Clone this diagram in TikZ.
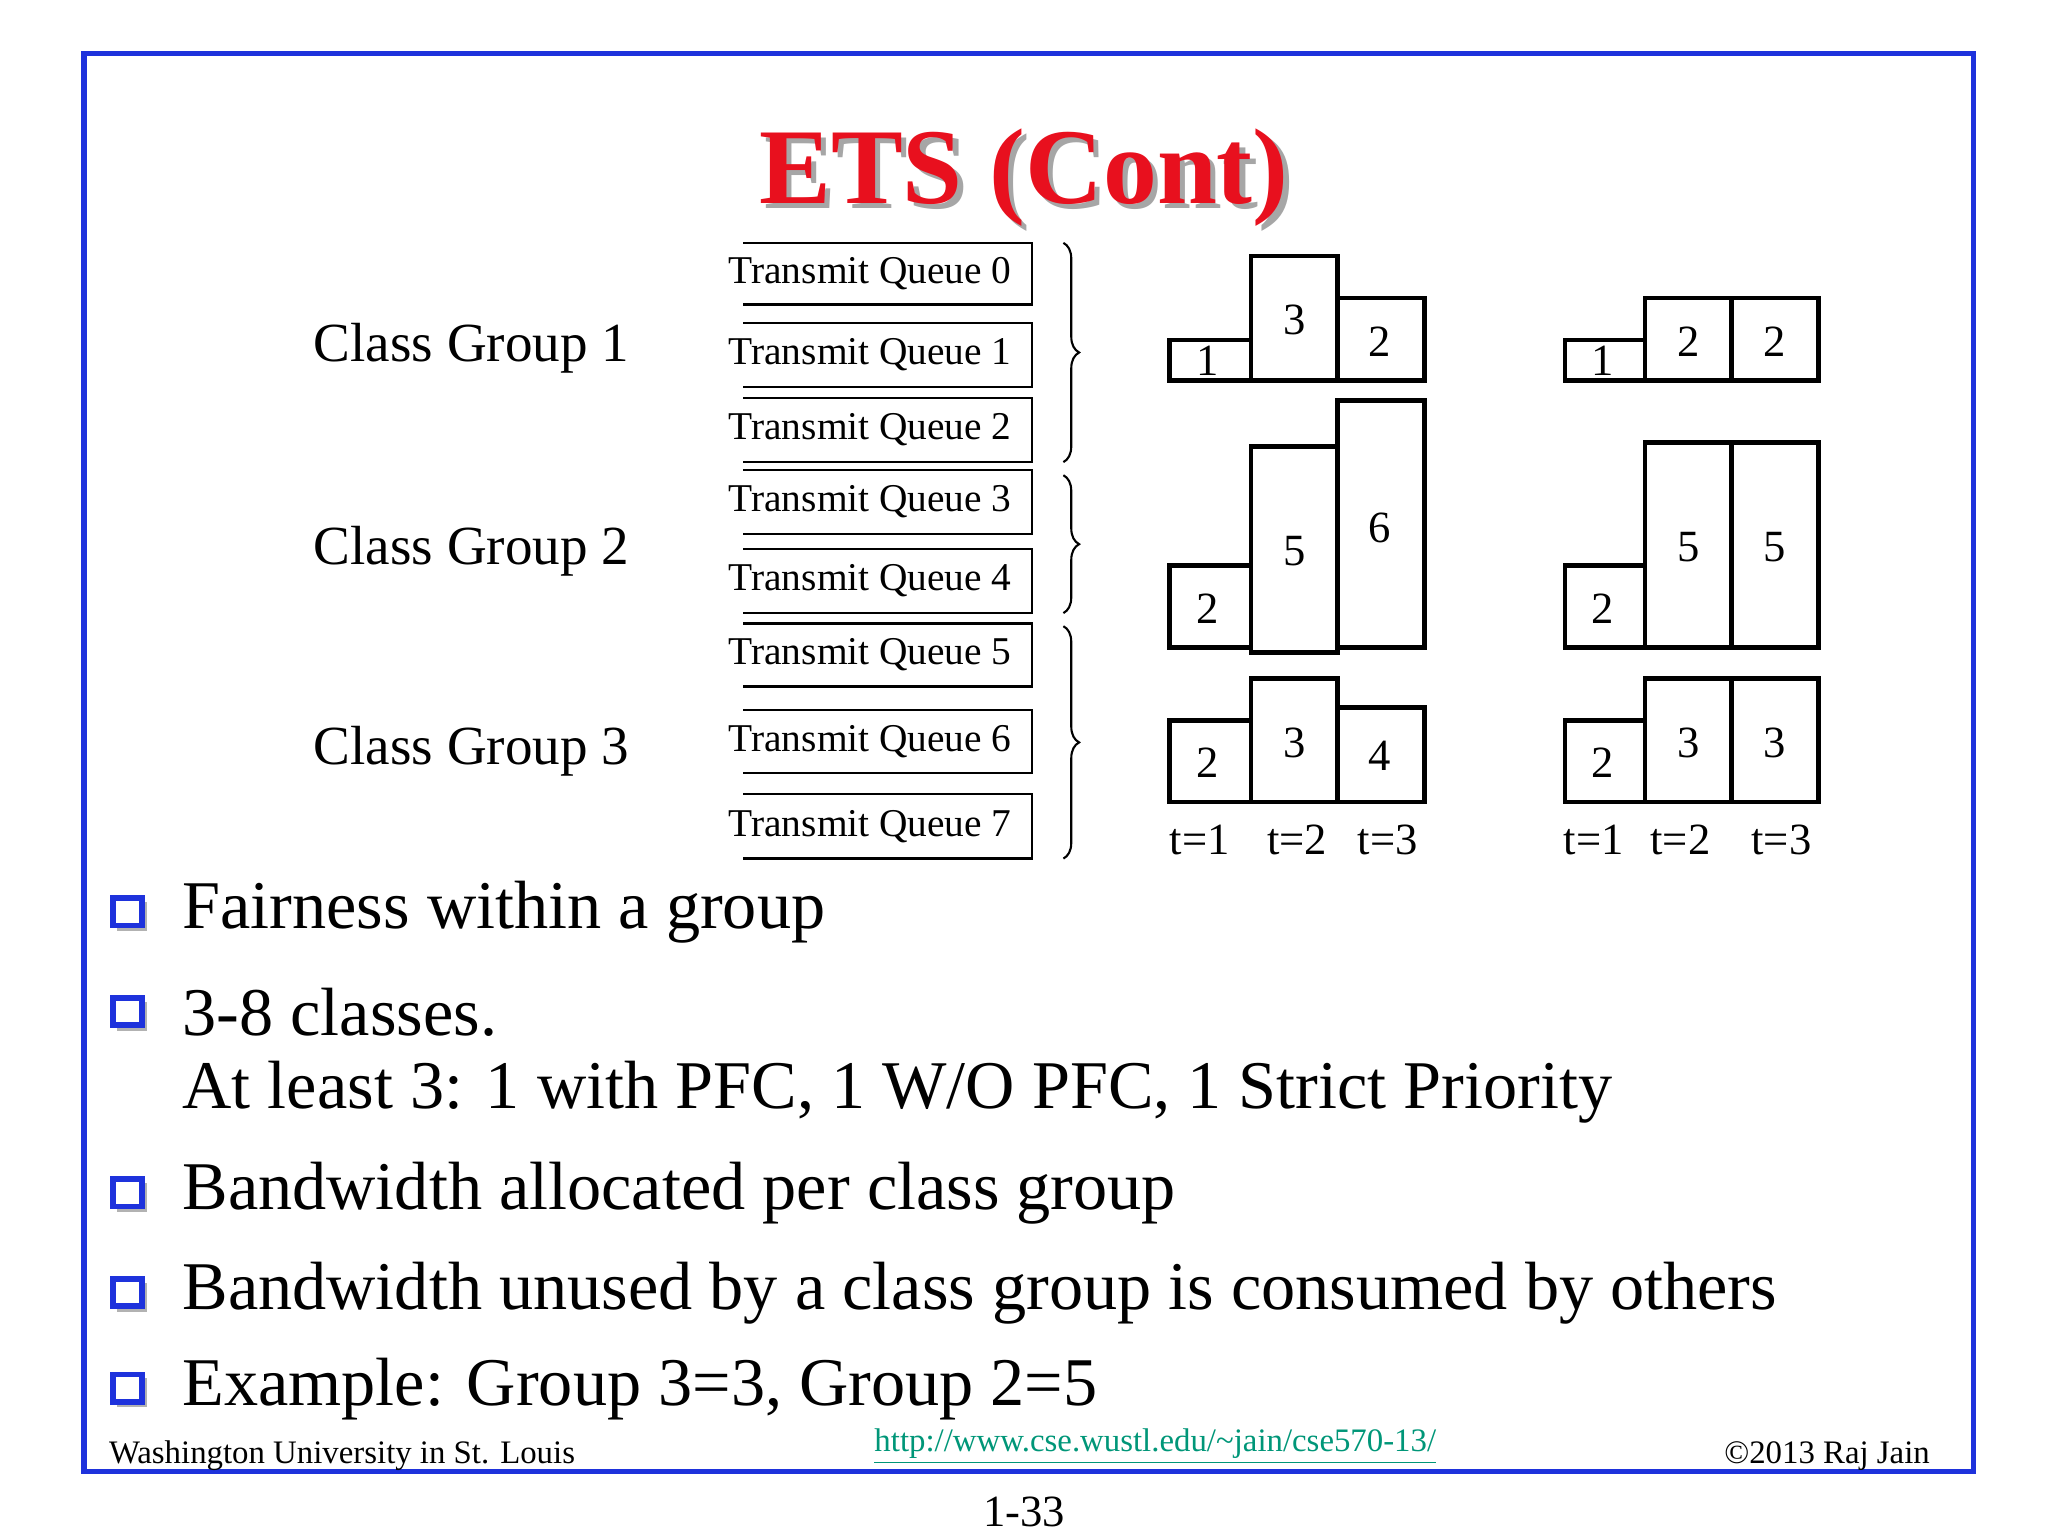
\documentclass[tikz,border=0pt]{standalone}
\usepackage{fontspec}
\setmainfont{Liberation Serif}
\usetikzlibrary{decorations.pathreplacing}
\definecolor{frameblue}{RGB}{30,50,220}
\definecolor{titlered}{RGB}{232,16,30}
\definecolor{urlgreen}{RGB}{0,150,120}
\begin{document}
\begin{tikzpicture}[x=0.5pt,y=-0.5pt,
  q/.style={font=\fontsize{15}{17}\selectfont,anchor=west},
  cg/.style={font=\fontsize{21}{24}\selectfont,anchor=west},
  num/.style={font=\fontsize{17}{19}\selectfont},
  bx/.style={draw,line width=1.8pt},
  bul/.style={font=\fontsize{26}{30}\selectfont,anchor=west},
  br/.style={decorate,decoration={brace,amplitude=6pt},line width=0.8pt}]
\useasboundingbox (0,0) rectangle (1560,1170);
\draw[frameblue,line width=2pt] (64,41) rectangle (1503,1121);
\node[font=\fontsize{41}{45}\selectfont\bfseries,text=gray!70] at (784,139) {ETS (Cont)};
\node[font=\fontsize{41}{45}\selectfont\bfseries,text=titlered] (title) at (780,135) {ETS (Cont)};
% queues
\foreach \i/\t/\b in {0/185/232,1/246/295,2/303/352,3/358/407,4/418/467,5/475/523,6/541/589,7/605/654}{
  \draw[line width=0.9pt] (566,\t) -- (786,\t) -- (786,\b) -- (566,\b);
  \node[q] (q\i) at (548,{(\t+\b)/2}) {Transmit Queue \i};
}
\draw[br] (810,185) -- (810,352);
\draw[br] (810,362) -- (810,467);
\draw[br] (810,477) -- (810,654);
\node[cg] (g1) at (232,265) {Class Group 1};
\node[cg] (g2) at (232,420) {Class Group 2};
\node[cg] (g3) at (232,572) {Class Group 3};
% chart 1
\draw[bx] (891,290) rectangle (953,259); \node[num] at (920,275) {1};
\draw[bx] (953,290) rectangle (1019,195); \node[num] at (986,244) {3};
\draw[bx] (1019,290) rectangle (1085,227); \node[num] at (1051,260) {2};
\draw[bx] (891,493) rectangle (953,431); \node[num] at (920,464) {2};
\draw[bx] (953,497) rectangle (1019,340); \node[num] at (986,420) {5};
\draw[bx] (1019,493) rectangle (1085,305); \node[num] at (1051,402) {6};
\draw[bx] (891,611) rectangle (953,549); \node[num] at (920,581) {2};
\draw[bx] (953,611) rectangle (1019,517); \node[num] at (986,566) {3};
\draw[bx] (1019,611) rectangle (1085,539); \node[num] at (1051,576) {4};
% chart 2
\draw[bx] (1192,290) rectangle (1253,259); \node[num] at (1221,275) {1};
\draw[bx] (1253,290) rectangle (1319,227); \node[num] at (1286,260) {2};
\draw[bx] (1319,290) rectangle (1385,227); \node[num] at (1352,260) {2};
\draw[bx] (1192,493) rectangle (1253,431); \node[num] at (1221,464) {2};
\draw[bx] (1253,493) rectangle (1319,337); \node[num] at (1286,417) {5};
\draw[bx] (1319,493) rectangle (1385,337); \node[num] at (1352,417) {5};
\draw[bx] (1192,611) rectangle (1253,549); \node[num] at (1221,581) {2};
\draw[bx] (1253,611) rectangle (1319,517); \node[num] at (1286,566) {3};
\draw[bx] (1319,611) rectangle (1385,517); \node[num] at (1352,566) {3};
\foreach \x/\l in {914/1,988/2,1057/3,1214/1,1280/2,1357/3}
  \node[num] at (\x,640) {t=\l};
% bullets
\foreach \y/\t in {695/Fairness within a group,771/3-8 classes.,909/Bandwidth allocated per class group,985/Bandwidth unused by a class group is consumed by others,1058/{Example: Group 3=3, Group 2=5}}{
  \fill[gray!60] (89,{\y-8}) rectangle (112,{\y+14});
  \draw[frameblue,line width=2.2pt,fill=white] (86,{\y-11}) rectangle (108,{\y+10});
  \node[bul] at (132,\y) {\t};
}
\node[bul] at (132,832) {At least 3: 1 with PFC, 1 W/O PFC, 1 Strict Priority};
% footer
\node[font=\fontsize{12.5}{14}\selectfont,anchor=west] at (76,1109) {Washington University in St. Louis};
\node[font=\fontsize{12.5}{14}\selectfont,text=urlgreen] at (880,1102) {\underline{http://www.cse.wustl.edu/\textasciitilde jain/cse570-13/}};
\node[font=\fontsize{12.5}{14}\selectfont,anchor=east] at (1477,1109) {©2013 Raj Jain};
\node[font=\fontsize{17}{19}\selectfont] at (780,1152) {1-33};
\end{tikzpicture}
\end{document}
